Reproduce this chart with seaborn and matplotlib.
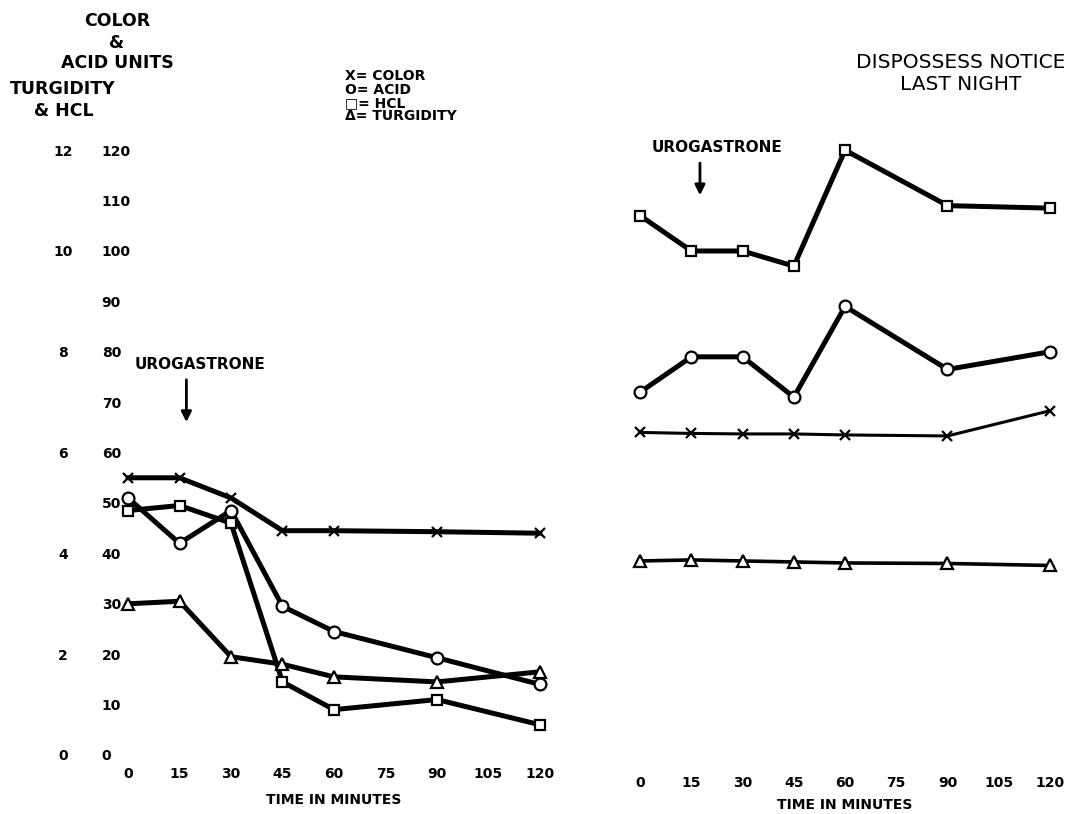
import matplotlib.pyplot as plt
import seaborn as sns

sns.set_style('white')
plt.rcParams['font.family'] = ['DejaVu Sans']
plt.rcParams['text.color'] = 'black'
plt.rcParams['xtick.color'] = 'black'
plt.rcParams['ytick.color'] = 'black'
plt.rcParams['axes.labelcolor'] = 'black'

# sampling times (minutes)
times = [0, 15, 30, 45, 60, 90, 120]

# left panel: color & acid in units (0-120), HCL & turgidity in 0-12 scale
color_left = [55, 55, 51, 44.5, 44.5, 44.3, 44]
acid_left = [51, 42, 48.5, 29.5, 24.5, 19.3, 14]
hcl_left = [4.85, 4.95, 4.6, 1.45, 0.9, 1.1, 0.6]
turg_left = [3.0, 3.05, 1.95, 1.8, 1.55, 1.45, 1.65]

# right panel: "dispossess notice last night"
color_right = [64, 63.8, 63.7, 63.7, 63.5, 63.3, 68.3]
acid_right = [72, 79, 79, 71, 89, 76.5, 80]
hcl_right = [10.7, 10.0, 10.0, 9.7, 12.0, 10.9, 10.85]
turg_right = [3.85, 3.87, 3.85, 3.83, 3.81, 3.8, 3.76]

x_ticks = [0, 15, 30, 45, 60, 75, 90, 105, 120]
unit_ticks = list(range(0, 121, 10))
small_ticks = list(range(0, 13, 2))

legend_lines = ['X= COLOR', 'O= ACID', '\u25a1= HCL', '\u0394= TURGIDITY']

fig = plt.figure(figsize=(10.67, 8.14), dpi=100)
ax_l = fig.add_axes([0.12, 0.0725, 0.386, 0.743])
ax_r = fig.add_axes([0.6, 0.0725, 0.384, 0.743])


def draw_panel(ax, color, acid, hcl, turg, lw_color, lw_turg):
    ax2 = ax.twinx()
    ax.set_ylim(0, 120)
    ax2.set_ylim(0, 12)
    ax.set_xlim(0, 120)
    common = dict(color='black', clip_on=False, markeredgecolor='black', markeredgewidth=1.6)
    sns.lineplot(x=times, y=color, ax=ax, linewidth=lw_color, marker='x', markersize=7, **common)
    sns.lineplot(x=times, y=acid, ax=ax, linewidth=3.6, marker='o', markersize=8.5,
                 markerfacecolor='white', **common)
    sns.lineplot(x=times, y=hcl, ax=ax2, linewidth=3.6, marker='s', markersize=7.5,
                 markerfacecolor='white', **common)
    sns.lineplot(x=times, y=turg, ax=ax2, linewidth=lw_turg, marker='^', markersize=8.5,
                 markerfacecolor='white', **common)
    for a in (ax, ax2):
        for s in a.spines.values():
            s.set_visible(False)
        a.tick_params(length=0)
    ax.set_xticks(x_ticks)
    ax.set_xticklabels([str(t) for t in x_ticks], fontsize=10, fontweight='bold')
    return ax2


ax2_l = draw_panel(ax_l, color_left, acid_left, hcl_left, turg_left, 3.6, 3.6)
ax2_r = draw_panel(ax_r, color_right, acid_right, hcl_right, turg_right, 2.2, 2.6)

# left panel y labels: two columns on the left
ax_l.set_yticks(unit_ticks)
ax_l.set_yticklabels([str(v) for v in unit_ticks], fontsize=10, fontweight='bold', ha='left')
ax_l.tick_params(axis='y', pad=19)
ax2_l.yaxis.tick_left()
ax2_l.set_yticks(small_ticks)
ax2_l.set_yticklabels([str(v) for v in small_ticks], fontsize=10, fontweight='bold', ha='center')
ax2_l.tick_params(axis='y', pad=47)
ax_l.tick_params(axis='x', pad=9)

ax_r.set_yticks([])
ax2_r.set_yticks([])
ax_r.tick_params(axis='x', pad=15)

ax_l.set_xlabel('TIME IN MINUTES', fontsize=10, fontweight='bold', labelpad=8)
ax_r.set_xlabel('TIME IN MINUTES', fontsize=10, fontweight='bold', labelpad=6)

# urogastrone injection markers
ax_l.text(21, 77.5, 'UROGASTRONE', fontsize=11, fontweight='bold', ha='center', va='center')
ax_l.annotate('', xy=(17, 65.5), xytext=(17, 75),
              arrowprops=dict(arrowstyle='-|>', color='black', lw=2, mutation_scale=15))
ax_r.text(22.5, 120.5, 'UROGASTRONE', fontsize=11, fontweight='bold', ha='center', va='center')
ax_r.annotate('', xy=(17.5, 110.5), xytext=(17.5, 118),
              arrowprops=dict(arrowstyle='-|>', color='black', lw=2, mutation_scale=15))

# axis headings, centred over their tick-label columns
fig.text(117 / 1067, 1 - 21 / 814, 'COLOR', fontsize=12.5, fontweight='bold', ha='center', va='center')
fig.text(117 / 1067, 1 - 43 / 814, '&', fontsize=12.5, fontweight='bold', ha='center', va='center')
fig.text(117 / 1067, 1 - 63 / 814, 'ACID UNITS', fontsize=12.5, fontweight='bold', ha='center', va='center')
fig.text(63 / 1067, 1 - 89 / 814, 'TURGIDITY', fontsize=12.5, fontweight='bold', ha='center', va='center')
fig.text(64 / 1067, 1 - 111 / 814, '& HCL', fontsize=12.5, fontweight='bold', ha='center', va='center')

# symbol key
for i, line in enumerate(legend_lines):
    fig.text(345 / 1067, 1 - (76 + 13.5 * i) / 814, line, fontsize=10, fontweight='bold',
             ha='left', va='center')

fig.text(961 / 1067, 1 - 62 / 814, 'DISPOSSESS NOTICE', fontsize=14.5, ha='center', va='center')
fig.text(961 / 1067, 1 - 84 / 814, 'LAST NIGHT', fontsize=14.5, ha='center', va='center')

fig.savefig('out.png', dpi=100)
